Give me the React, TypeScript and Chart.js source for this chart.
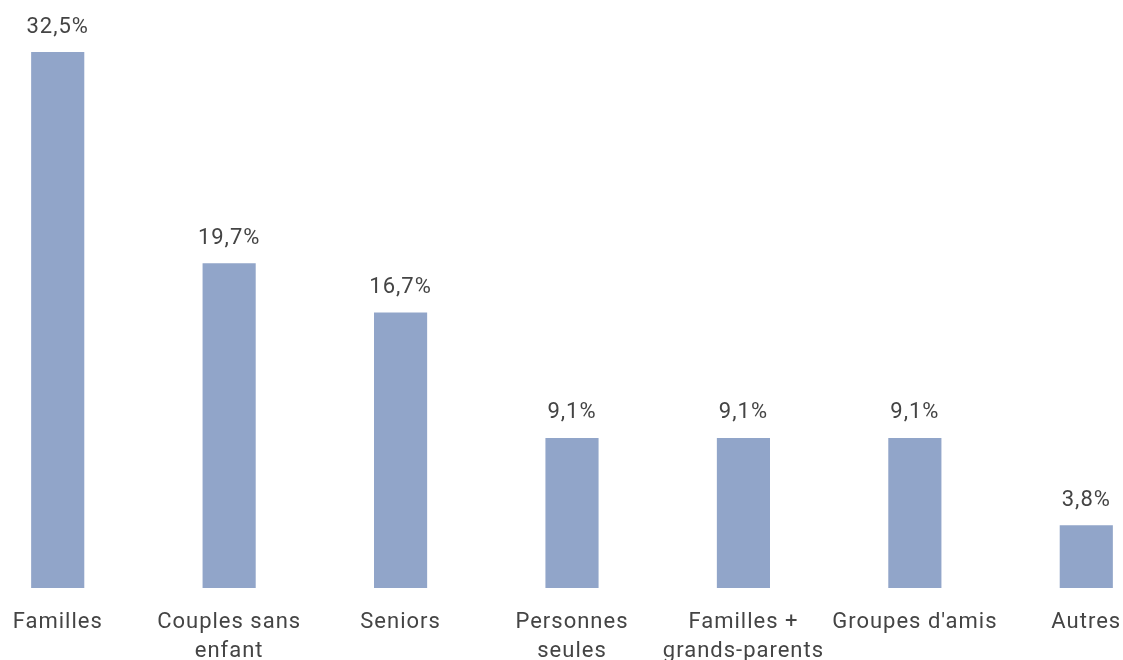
import React, { useEffect, useRef } from "react";
import { Chart, registerables } from "chart.js";

Chart.register(...registerables);

const categories: (string | string[])[] = [
  "Familles",
  ["Couples sans", "enfant"],
  "Seniors",
  ["Personnes", "seules"],
  ["Familles +", "grands-parents"],
  "Groupes d'amis",
  "Autres",
];
const values: number[] = [32.5, 19.7, 16.7, 9.1, 9.1, 9.1, 3.8];
const valueLabels: string[] = ["32,5%", "19,7%", "16,7%", "9,1%", "9,1%", "9,1%", "3,8%"];

const BAR_COLOR = "#91A5C9";
const TEXT_COLOR = "#444444";
const FONT_FAMILY = "Roboto, 'DejaVu Sans', sans-serif";

const spacingPlugin = {
  id: "letterSpacing",
  beforeDraw(chart: any) {
    chart.ctx.letterSpacing = "1px";
  },
};

const valueLabelPlugin = {
  id: "valueLabels",
  afterDatasetsDraw(chart: any) {
    const ctx = chart.ctx;
    const meta = chart.getDatasetMeta(0);
    ctx.save();
    ctx.letterSpacing = "1px";
    ctx.font = `22px ${FONT_FAMILY}`;
    ctx.fillStyle = TEXT_COLOR;
    ctx.textAlign = "center";
    ctx.textBaseline = "middle";
    meta.data.forEach((bar: any, i: number) => {
      ctx.fillText(valueLabels[i], bar.x, bar.y - 25);
    });
    ctx.restore();
  },
};

export default function App() {
  const ref = useRef<HTMLCanvasElement | null>(null);

  useEffect(() => {
    document.body.style.margin = "0";
    if (!ref.current) return;
    const chart = new Chart(ref.current, {
      type: "bar",
      data: {
        labels: categories as any,
        datasets: [
          {
            data: values,
            backgroundColor: BAR_COLOR,
            barPercentage: 0.31,
            categoryPercentage: 1,
          },
        ],
      },
      options: {
        animation: false,
        responsive: false,
        maintainAspectRatio: false,
        layout: { padding: { top: 0, bottom: 4, left: 0, right: 0 } },
        plugins: {
          legend: { display: false },
          tooltip: { enabled: false },
        },
        scales: {
          x: {
            grid: { display: false, drawTicks: false },
            border: { display: false },
            ticks: {
              color: TEXT_COLOR,
              font: { family: FONT_FAMILY, size: 22, lineHeight: 1.32 },
              padding: 20,
              maxRotation: 0,
              autoSkip: false,
            },
          },
          y: {
            display: false,
            min: 0,
            max: 35.66,
          },
        },
      },
      plugins: [spacingPlugin, valueLabelPlugin],
    });
    return () => chart.destroy();
  }, []);

  return (
    <div style={{ position: "relative", width: 1123, height: 660, overflow: "hidden" }}>
      <canvas
        ref={ref}
        width={1200}
        height={690}
        style={{ position: "absolute", left: -28, top: 0, width: 1200, height: 690 }}
      />
    </div>
  );
}
